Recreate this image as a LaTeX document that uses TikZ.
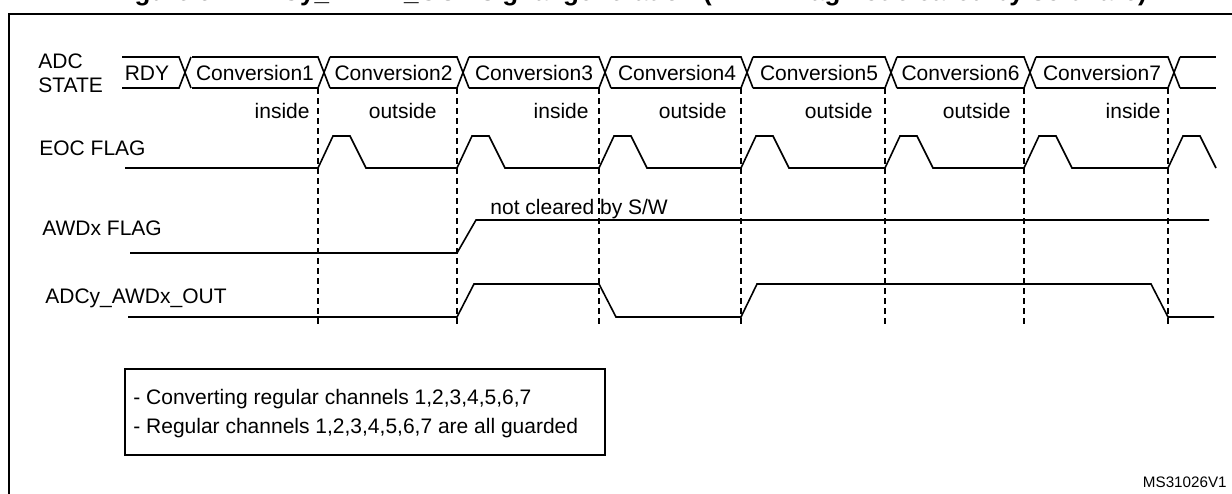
\documentclass[tikz,border=0pt]{standalone}
\usepackage{fontspec}
\setmainfont{Liberation Sans}
\usepackage{tikz}
\tikzstyle{wave} = [line width=0.8pt, line join=miter]
\tikzstyle{guide} = [line width=0.6pt, dash pattern=on 3pt off 2pt]
\tikzstyle{lbl} = [inner sep=0pt, font=\fontsize{10.5}{12.6}\selectfont]

\begin{document}
\begin{tikzpicture}[x=0.5pt, y=-0.5pt]
\useasboundingbox (0,0) rectangle (1232,493);
% title, cut off at the top
\node[inner sep=0pt, anchor=base west, font=\bfseries\fontsize{13}{15}\selectfont] (title) at (111,0) {Figure 91. ADCy\_AWDx\_OUT signal generation (AWDx flag not cleared by software)};
\draw[line width=1.1pt] (9,14) rectangle (1250,510);
% row names
\node[lbl, anchor=base west] (adc) at (38,68) {ADC};
\node[lbl, anchor=base west] (state) at (38,92) {STATE};
\node[lbl, anchor=base west] (eoc) at (39,155) {EOC FLAG};
\node[lbl, anchor=base west] (awd) at (42,235) {AWDx FLAG};
\node[lbl, anchor=base west] (awdout) at (45,303) {ADCy\_AWDx\_OUT};
% ADC state bus
\foreach \a/\b in {122/179, 192/318, 330/457, 469/599, 611/741, 753/885, 897/1024, 1036/1168} {
    \draw[wave] (\a,57) -- (\b,57) -- ++(12,31);
    \draw[wave] (\a,88) -- (\b,88) -- ++(12,-31);
}
\draw[wave] (1180,57) -- (1216,57) (1180,88) -- (1216,88);
\node[lbl, anchor=base] (rdy) at (147,80.5) {RDY};
\foreach \i/\x in {1/255, 2/393.5, 3/534, 4/677, 5/819, 6/960.5, 7/1102}
    \node[lbl, anchor=base] (conv\i) at (\x,80.5) {Conversion\i};
% guard zones
\foreach \i/\z/\x in {1/inside/310, 2/outside/437, 3/inside/589, 4/outside/727, 5/outside/873, 6/outside/1011, 7/inside/1161}
    \node[lbl, anchor=base east] (zone\i) at (\x,118) {\z};
\foreach \t in {318, 457, 599, 741, 885, 1024, 1168}
    \draw[guide] (\t,88) -- (\t,326);
% EOC flag
\draw[wave] (125,168) \foreach \t in {318, 457, 599, 741, 885, 1024, 1168} { -- (\t,168) -- ++(15,-32) -- ++(17,0) -- ++(16,32) };
% AWDx flag
\draw[wave] (130,253) -- (457,253) -- (476,220) -- (1209,220);
\node[lbl, anchor=base west] (cleared) at (490,214) {not cleared by S/W};
% ADCy_AWDx_OUT
\draw[wave] (128,317) -- (457,317) -- (474,284) -- (599,284) -- (616,317) -- (741,317) -- (757,284) -- (1151,284) -- (1168,317) -- (1214,317);
% note box
\draw[line width=0.7pt] (125,369) rectangle (605,455);
\node[lbl, anchor=base west] (note1) at (133,404) {- Converting regular channels 1,2,3,4,5,6,7};
\node[lbl, anchor=base west] (note2) at (133,433) {- Regular channels 1,2,3,4,5,6,7 are all guarded};
\node[inner sep=0pt, anchor=base east, font=\fontsize{7.6}{9}\selectfont] (ref) at (1227,487) {MS31026V1};
\end{tikzpicture}
\end{document}
